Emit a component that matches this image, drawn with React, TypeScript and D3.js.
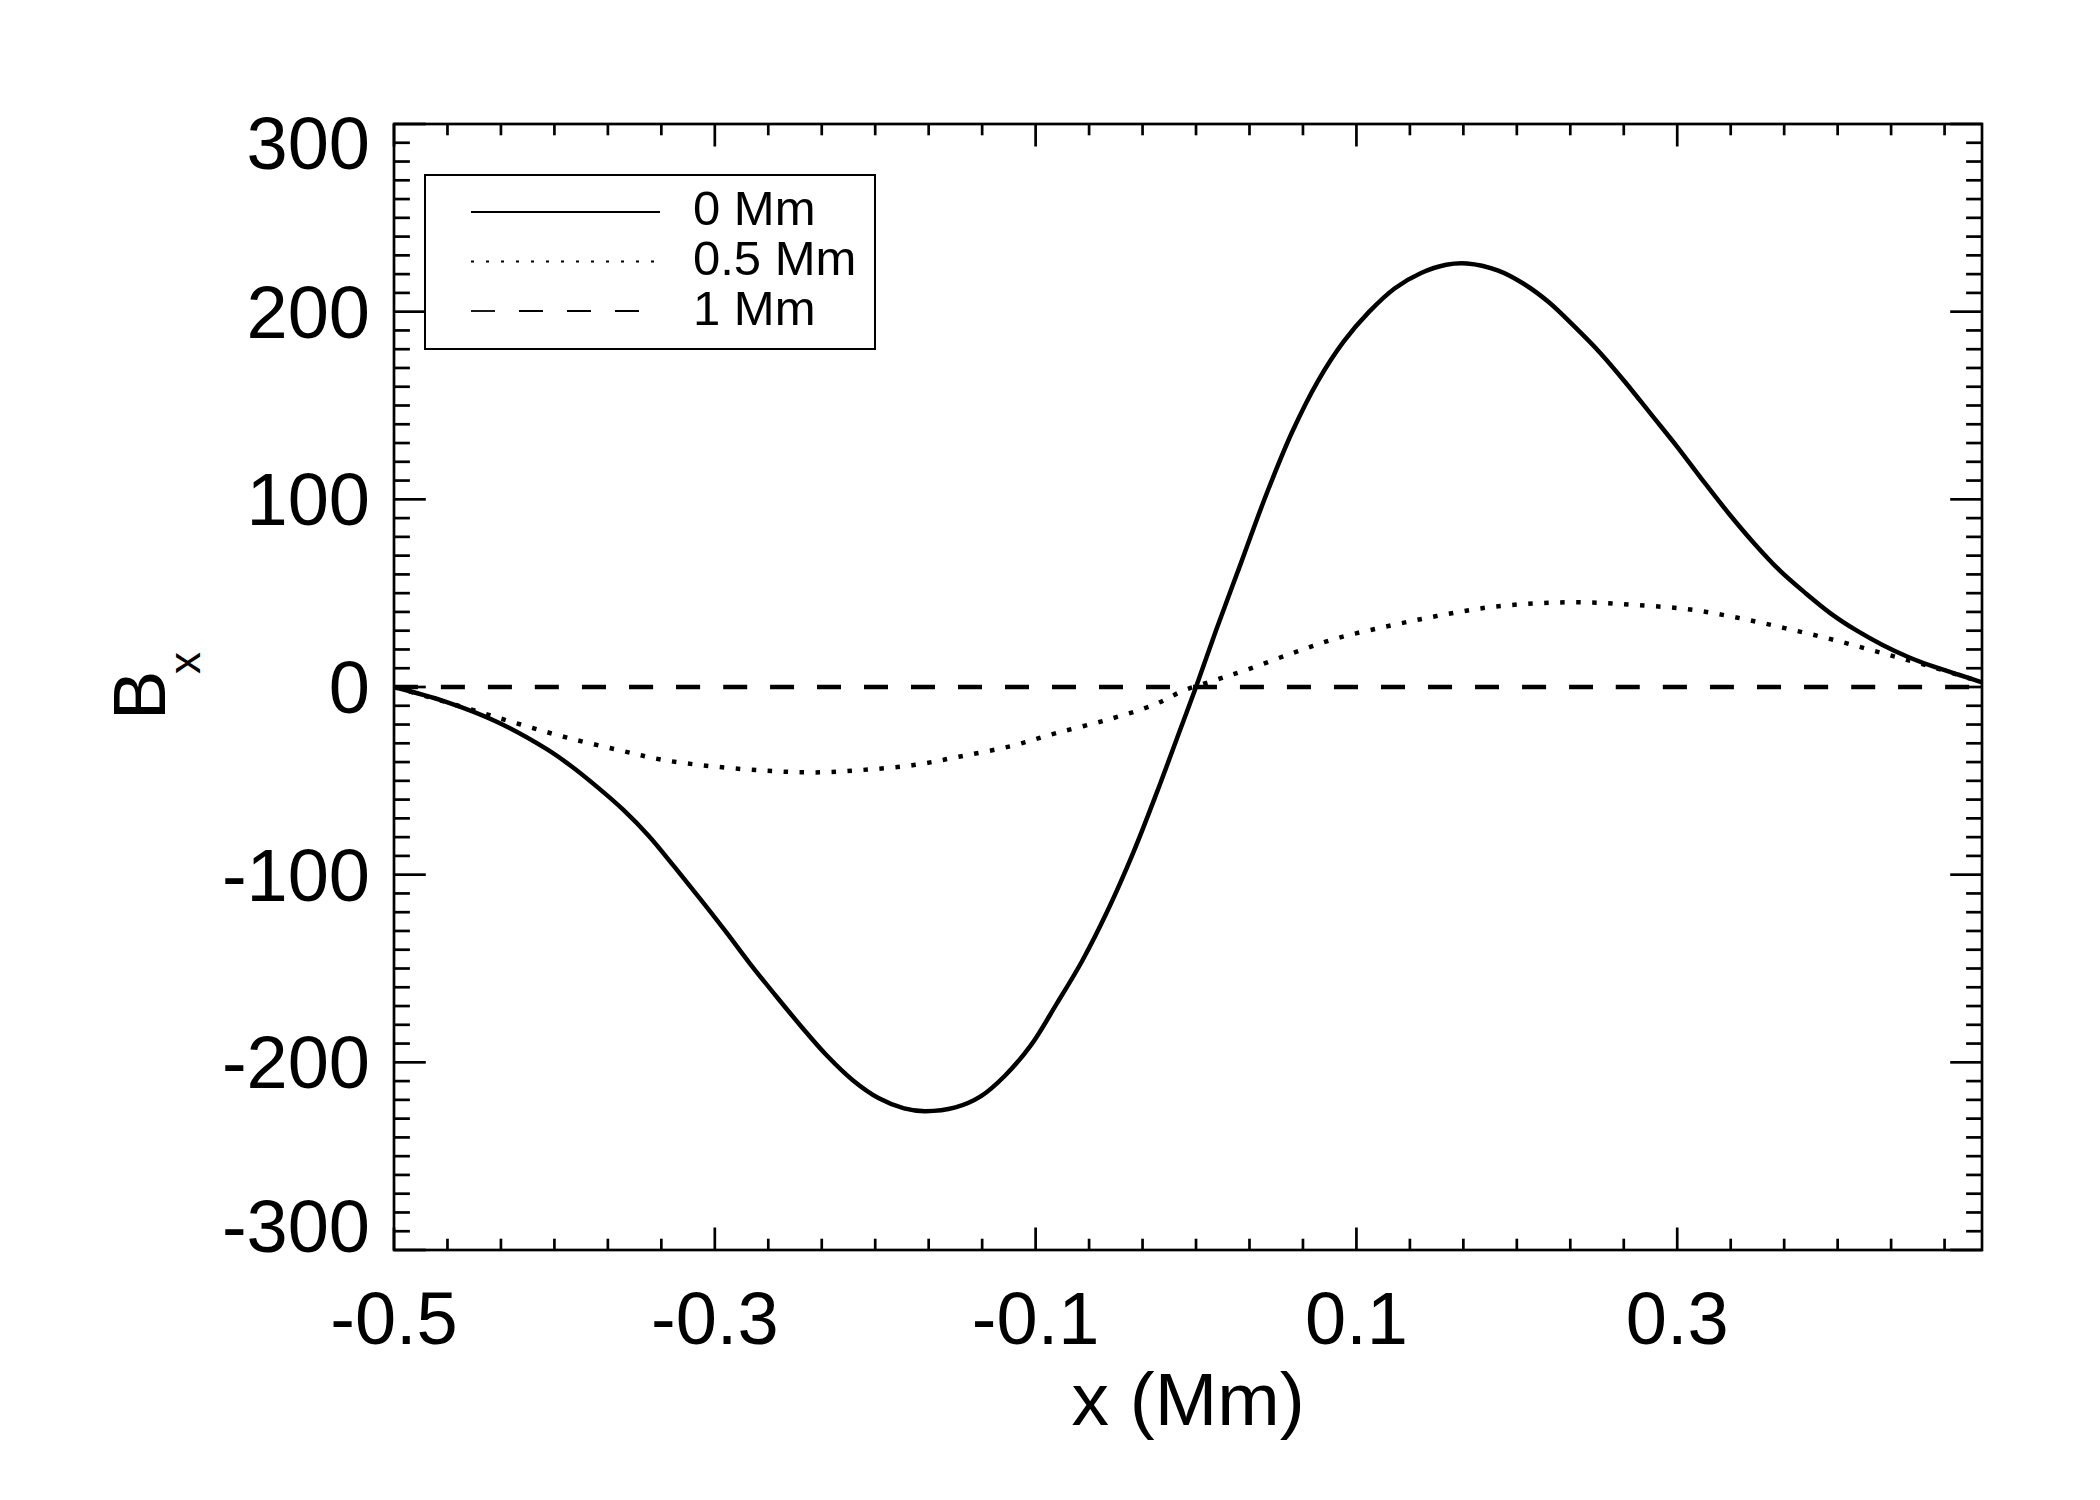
import React from 'react';
import * as d3 from 'd3';

// values
const x0Mm = [-0.5, -0.468, -0.436, -0.405, -0.389, -0.373, -0.357, -0.341, -0.325, -0.309, -0.293, -0.278, -0.262, -0.246, -0.23, -0.214, -0.198, -0.182, -0.169, -0.15, -0.134, -0.119, -0.103, -0.087, -0.071, -0.055, -0.039, -0.023, -0.01, 0.0, 0.012, 0.028, 0.044, 0.06, 0.076, 0.092, 0.108, 0.124, 0.14, 0.156, 0.169, 0.188, 0.204, 0.22, 0.236, 0.252, 0.268, 0.284, 0.3, 0.316, 0.332, 0.348, 0.364, 0.38, 0.396, 0.412, 0.428, 0.444, 0.46, 0.476, 0.49];
const b0Mm = [0, -7.8, -18.5, -33, -42.5, -53.5, -65.5, -79.5, -96, -113, -130.5, -147.5, -164.5, -181, -196.5, -209.5, -219, -224.5, -226, -224, -218, -207, -191, -169, -146, -119, -88, -53, -23, 0, 29, 66, 103, 136, 163, 184, 200, 212.5, 220.5, 225, 225.7, 222, 215, 205, 192, 178, 162, 145, 128, 110, 92.6, 76.5, 62, 50, 39, 30, 22.4, 16, 10.8, 6.4, 2.5];

const x05Mm = [-0.5, -0.452, -0.421, -0.392, -0.36, -0.332, -0.3, -0.268, -0.238, -0.208, -0.176, -0.147, -0.115, -0.087, -0.055, -0.026, -0.008, 0.012, 0.031, 0.06, 0.088, 0.12, 0.15, 0.181, 0.213, 0.244, 0.274, 0.306, 0.337, 0.367, 0.398, 0.428, 0.459, 0.49];
const b05Mm = [0, -12, -20, -27, -33.6, -38.9, -42.4, -44.6, -45.5, -44.2, -41.6, -37, -31.4, -24.5, -17.4, -9.4, -2, 3.7, 9, 18, 26, 32.5, 37.8, 42.3, 44.6, 45.1, 43.7, 41.5, 37, 31.4, 25, 18, 10.7, 2.5];

const x1Mm = [-0.5, -0.25, 0, 0.25, 0.49];
const b1Mm = [0, 0, 0, 0, 0];

const seriesNames = ['0 Mm', '0.5 Mm', '1 Mm'];
const xMajorTicks = [-0.5, -0.3, -0.1, 0.1, 0.3];
const yMajorTicks = [-300, -200, -100, 0, 100, 200, 300];

const FONT = '"Liberation Sans", Arial, Helvetica, sans-serif';

const App: React.FC = () => {
    const left = 394, right = 1982, top = 124, bottom = 1250;
    const x = d3.scaleLinear().domain([-0.5, 0.49]).range([left, right]);
    const y = d3.scaleLinear().domain([-300, 300]).range([bottom, top]);

    const line = d3.line<[number, number]>()
        .x(d => x(d[0]))
        .y(d => y(d[1]))
        .curve(d3.curveCatmullRom.alpha(0.5));

    const series = [
        { name: seriesNames[0], pts: x0Mm.map((v, i) => [v, b0Mm[i]] as [number, number]), dash: undefined, legendDash: undefined },
        { name: seriesNames[1], pts: x05Mm.map((v, i) => [v, b05Mm[i]] as [number, number]), dash: '4.5 11.5', legendDash: '3 12' },
        { name: seriesNames[2], pts: x1Mm.map((v, i) => [v, b1Mm[i]] as [number, number]), dash: '24 23', legendDash: '24 24' },
    ];

    const xMinor = d3.range(0, 30).map(i => -0.5 + i * 0.2 / 6).filter(v => v <= 0.49 + 1e-9);
    const yMinor = d3.range(-300, 301, 10);
    const xMajLen = 22.5, xMinLen = 11.3, yMajLen = 31.8, yMinLen = 15.9;
    const axisW = 2.7;

    const isMajorX = (v: number) => xMajorTicks.some(t => Math.abs(t - v) < 1e-6);
    const labelNudge = (v: number) => (v === 300 ? 19 : v === -300 ? -24 : 0);

    return (
        <svg width={2100} height={1500} style={{ position: 'absolute', left: 0, top: 0, background: '#fff' }}>
            <rect x={0} y={0} width={2100} height={1500} fill="#fff" />
            {/* data */}
            <g fill="none" stroke="#000" strokeWidth={4.5}>
                {series.map(s => (
                    <path key={s.name} d={line(s.pts) || ''} strokeDasharray={s.dash} />
                ))}
            </g>

            {/* frame */}
            <rect x={left} y={top} width={right - left} height={bottom - top} fill="none" stroke="#000" strokeWidth={axisW} />

            {/* ticks on all four sides, pointing inward */}
            <g stroke="#000" strokeWidth={axisW}>
                {xMinor.map(v => {
                    const len = isMajorX(v) ? xMajLen : xMinLen;
                    return (
                        <g key={'xt' + v}>
                            <line x1={x(v)} x2={x(v)} y1={bottom} y2={bottom - len} />
                            <line x1={x(v)} x2={x(v)} y1={top} y2={top + len} />
                        </g>
                    );
                })}
                {yMinor.map(v => {
                    const len = v % 100 === 0 ? yMajLen : yMinLen;
                    return (
                        <g key={'yt' + v}>
                            <line x1={left} x2={left + len} y1={y(v)} y2={y(v)} />
                            <line x1={right} x2={right - len} y1={y(v)} y2={y(v)} />
                        </g>
                    );
                })}
            </g>

            {/* tick labels */}
            <g fontFamily={FONT} fontSize={74} fill="#000">
                {xMajorTicks.map(v => (
                    <text key={'xl' + v} x={x(v)} y={1344} textAnchor="middle">{d3.format('.1f')(v).replace('−', '-')}</text>
                ))}
                {yMajorTicks.map(v => (
                    <text key={'yl' + v} x={370} y={y(v) + 26 + labelNudge(v)} textAnchor="end">{String(v)}</text>
                ))}
            </g>

            {/* axis titles */}
            <text x={(left + right) / 2} y={1425} textAnchor="middle" fontFamily={FONT} fontSize={75}>x (Mm)</text>
            <text transform={`translate(165,${(top + bottom) / 2}) rotate(-90)`} fontFamily={FONT}>
                <tspan x={-33} y={0} fontSize={74}>B</tspan>
                <tspan x={13} y={35} fontSize={44}>x</tspan>
            </text>

            {/* legend */}
            <rect x={425} y={175} width={450} height={174} fill="#fff" stroke="#000" strokeWidth={2} />
            {series.map((s, i) => (
                <g key={'lg' + s.name}>
                    <line x1={471} x2={660} y1={212 + i * 49.5} y2={212 + i * 49.5} stroke="#000" strokeWidth={1.8} strokeDasharray={s.legendDash} />
                    <text x={693} y={225 + i * 50} fontFamily={FONT} fontSize={49}>{s.name}</text>
                </g>
            ))}
        </svg>
    );
};

export default App;
